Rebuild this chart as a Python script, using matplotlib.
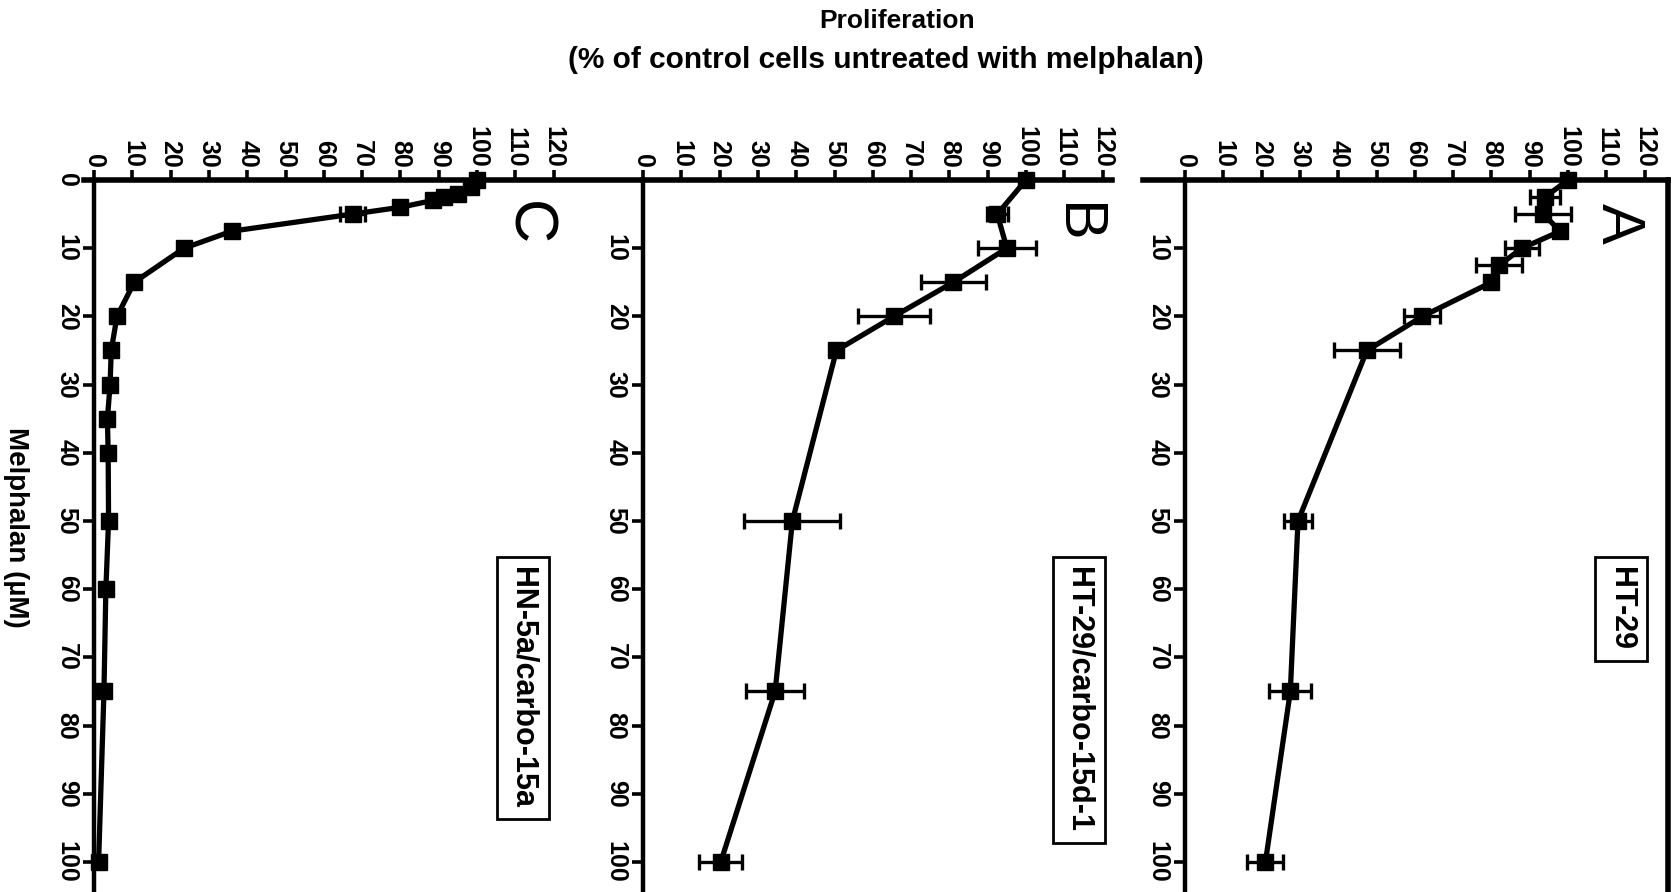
import matplotlib.pyplot as plt

plt.rcParams['font.family'] = ['Liberation Sans Narrow', 'Liberation Sans', 'DejaVu Sans']

# melphalan dose (uM) vs proliferation (% of untreated control), mean and error
melph_a = [0, 2.5, 5, 7.5, 10, 12.5, 15, 20, 25, 50, 75, 100]
prolif_a = [100, 94, 93.5, 98, 88, 82, 80, 62, 47.5, 29.5, 27.5, 21]
err_a = [0, 4, 7.4, 0, 4.5, 6, 1, 4.7, 8.7, 3.7, 5.5, 4.7]

melph_b = [0, 5, 10, 15, 20, 25, 50, 75, 100]
prolif_b = [100, 92.5, 95, 81, 65.5, 50.5, 39, 34.5, 20.3]
err_b = [0, 2.8, 7.5, 8.5, 9.4, 1, 12.5, 7.5, 5.6]

melph_c = [0, 1, 2, 2.5, 3, 4, 5, 7.5, 10, 15, 20, 25, 30, 35, 40, 50, 60, 75, 100]
prolif_c = [100, 98.5, 95, 91.5, 88.5, 80, 67.5, 36, 23.5, 10.5, 6, 4.5, 4.2, 3.5, 3.7, 3.8, 3.1, 2.6, 1.2]
err_c = [0, 0.5, 0.5, 0.5, 0.5, 0.8, 3.3, 0.8, 0.6, 0.6, 0.5, 0.5, 0.5, 0.5, 0.5, 0.5, 0.5, 0.5, 0.5]

prolif_ticks = list(range(0, 121, 10))
melph_ticks = list(range(0, 101, 10))

fig = plt.figure(figsize=(16.77, 8.92), dpi=100)
fig.patch.set_facecolor('white')

W, H = 1677.0, 892.0
ax_h = (H - 180) / H
px_per_unit = 3.83

# panel C, B, A from left to right: (left px, x max, letter, cell line, label centre, top bounds)
panels = [
    (94, 120, 'C', 'HN-5a/carbo-15a', 112, (-2.5, 143), melph_c, prolif_c, err_c, True),
    (643, 120, 'B', 'HT-29/carbo-15d-1', 113.8, (0, 122.5), melph_b, prolif_b, err_b, False),
    (1185, 126, 'A', 'HT-29', 113.8, (-11, 126), melph_a, prolif_a, err_a, False),
]

for left, xmax, letter, cells, lab_x, bounds, mx, py, pe, zero_lab in panels:
    ax = fig.add_axes([left / W, 0, xmax * px_per_unit / W, ax_h])
    ax.set_xlim(0, xmax)
    ax.set_ylim(104.4, 0)
    ax.set_facecolor('none')

    ax.spines['bottom'].set_visible(False)
    ax.spines['right'].set_visible(letter == 'A')
    ax.spines['right'].set_linewidth(4)
    ax.spines['top'].set_linewidth(4)
    ax.spines['top'].set_bounds(*bounds)
    ax.spines['left'].set_linewidth(3.2)

    ax.xaxis.tick_top()
    ax.set_xticks(prolif_ticks)
    ax.set_xticklabels([str(t) for t in prolif_ticks], rotation=-90, fontsize=18,
                       fontweight='bold')
    ax.set_yticks(melph_ticks)
    ylabs = [str(t) for t in melph_ticks]
    if not zero_lab:
        ylabs[0] = ''
    ax.set_yticklabels(ylabs, rotation=-90, fontsize=18, va='center', fontweight='bold')
    ax.tick_params(axis='x', direction='out', length=7, width=2.6, pad=2)
    ax.tick_params(axis='y', direction='out', length=8, width=2.6, pad=3)

    eb = ax.errorbar(py, mx, xerr=pe, fmt='-s', color='black', lw=3.8, ms=11.5,
                     capsize=6, elinewidth=2.4, capthick=2.4)
    for art in eb.get_children():
        art.set_clip_on(False)

    ax.text(113, 6.3, letter, rotation=-90, fontsize=44, ha='center', va='center',
            family='Liberation Sans')
    ax.text(lab_x, 56.8, cells, rotation=-90, rotation_mode='anchor', ha='left', va='center',
            fontsize=22, fontweight='bold',
            bbox=dict(boxstyle='square,pad=0.35', fc='white', ec='black', lw=2))

fig.text(0.535, 1 - 21 / H, 'Proliferation', ha='center', va='center', fontsize=19,
         fontweight='bold')
fig.text(0.528, 1 - 60 / H, '(% of control cells untreated with melphalan)', ha='center',
         va='center', fontsize=21.5, fontweight='bold')
fig.text(16 / W, 1 - 527 / H, 'Melphalan (\u00b5M)', rotation=-90, ha='center', va='center',
         fontsize=20, fontweight='bold')

fig.savefig('out.png', dpi=100, facecolor='white')
